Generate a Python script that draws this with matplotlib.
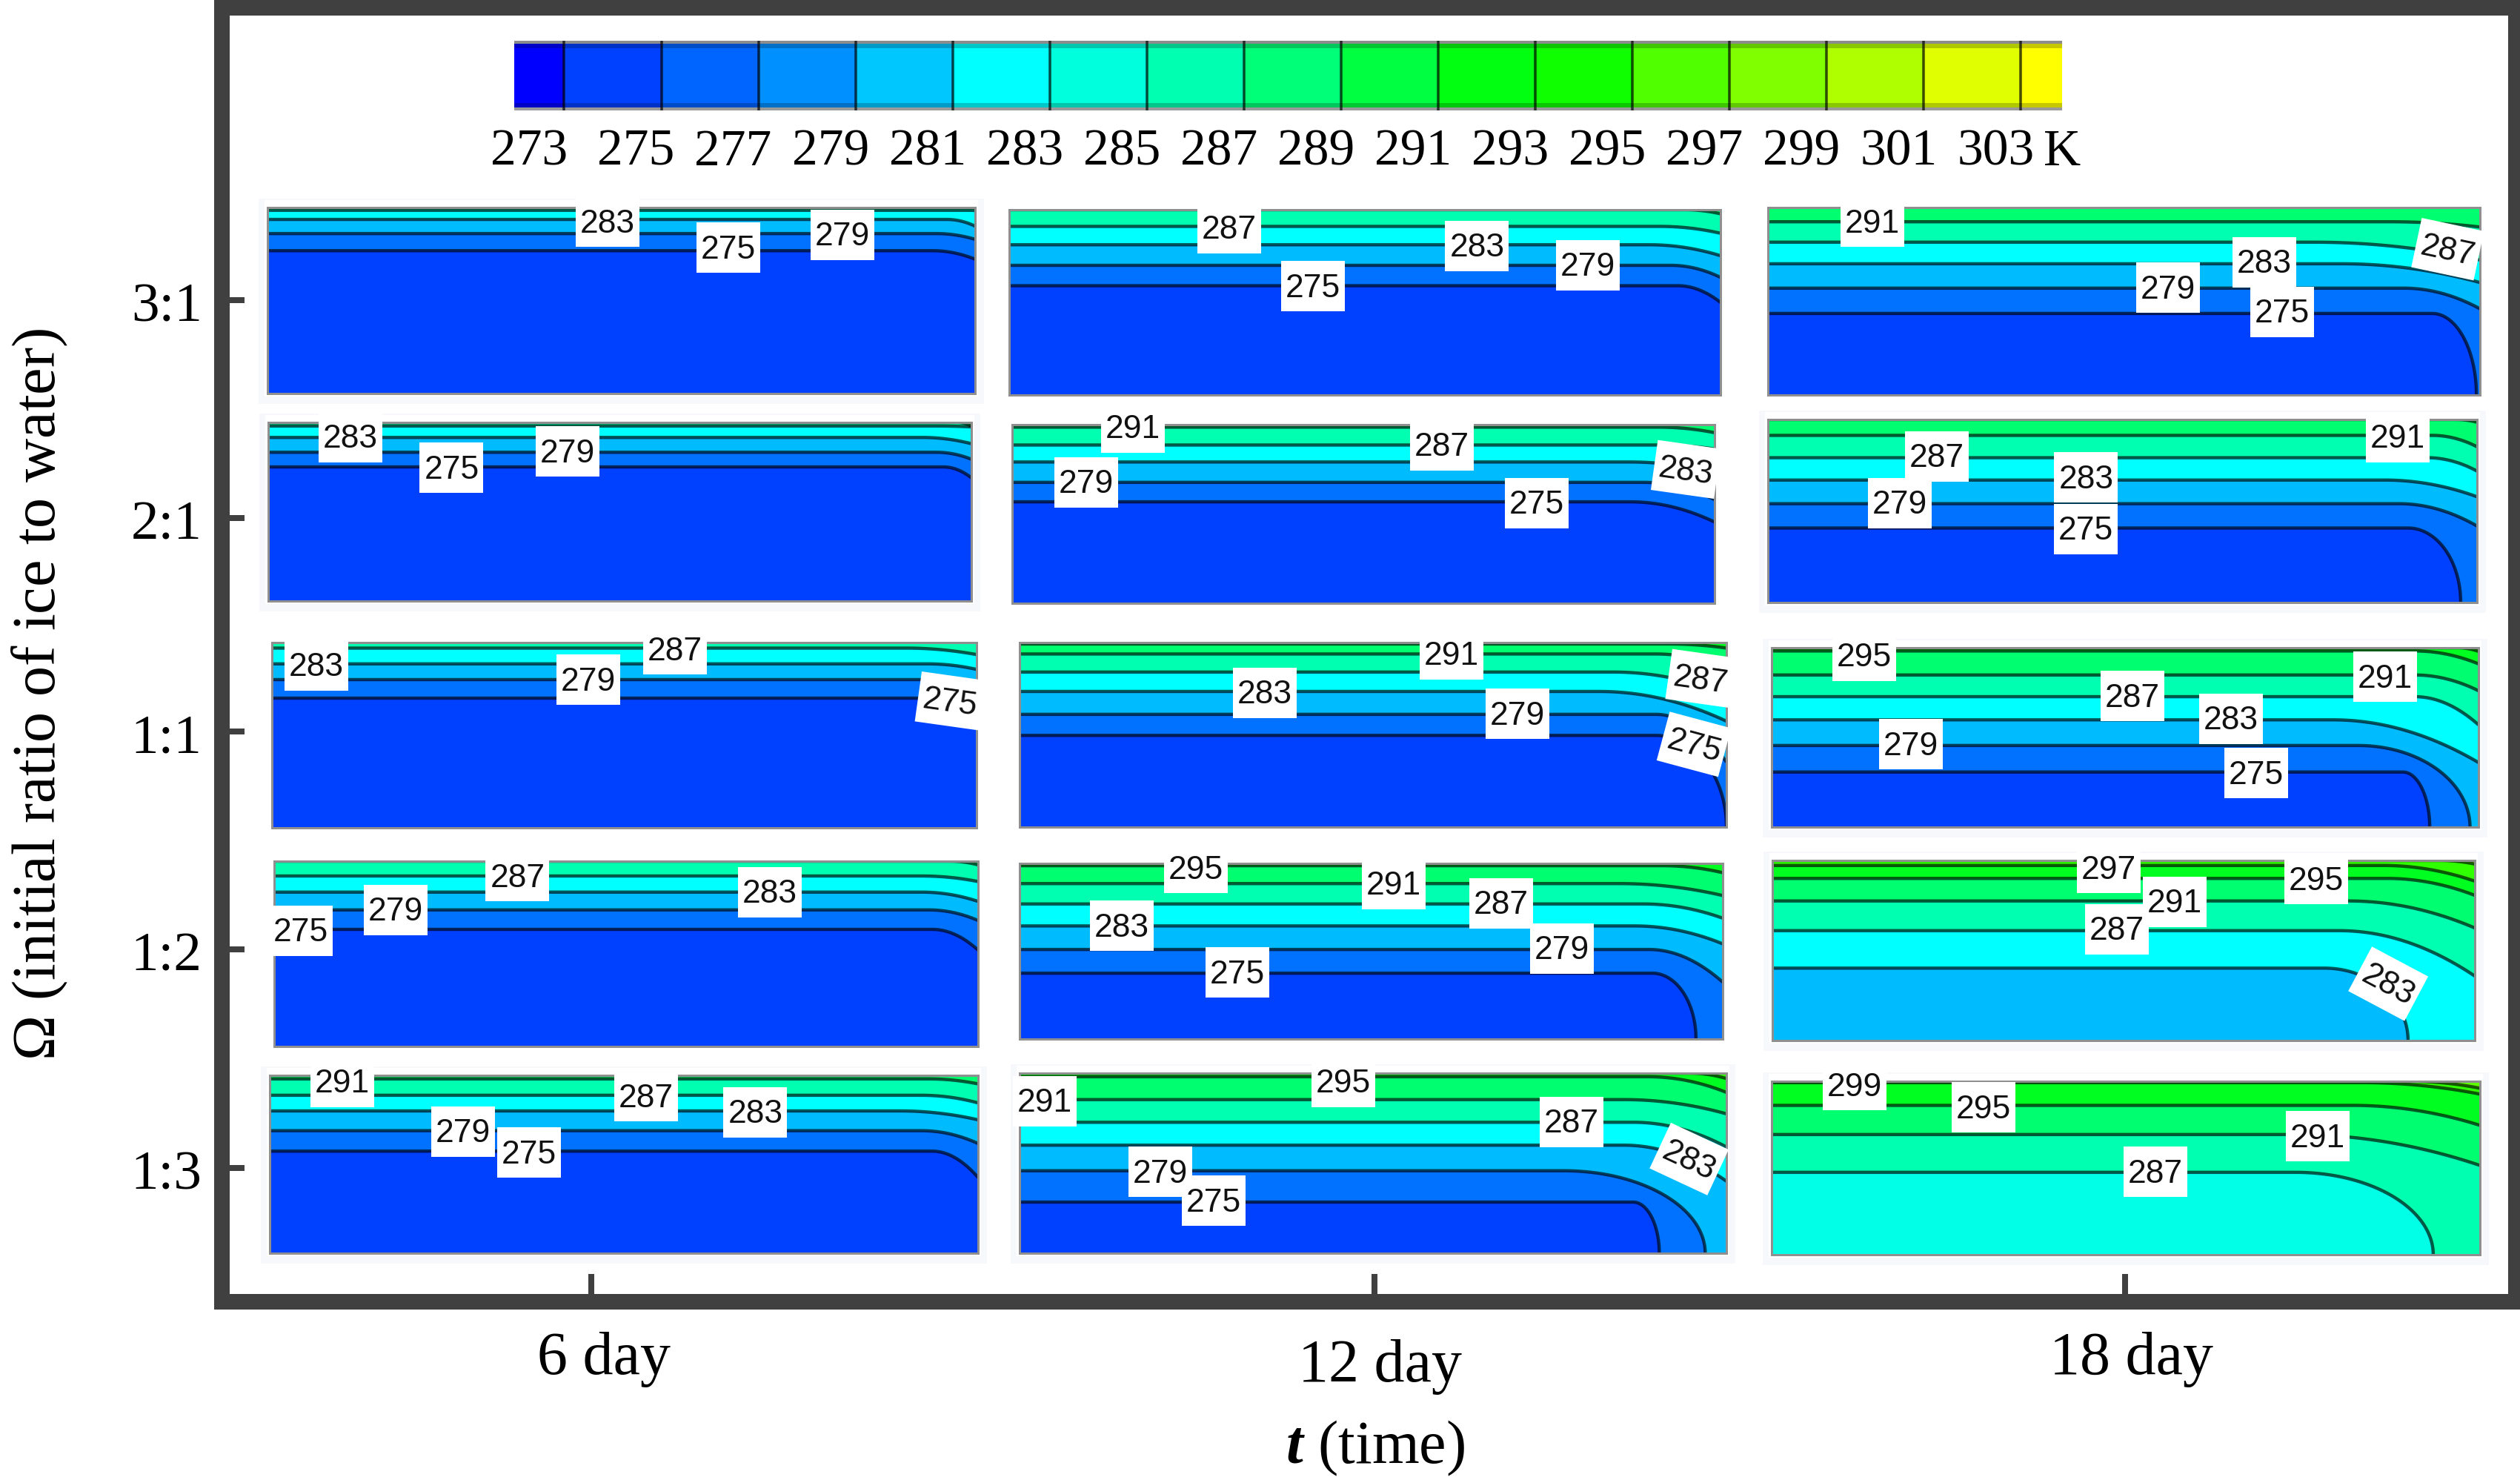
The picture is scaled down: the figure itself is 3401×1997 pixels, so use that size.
import numpy as np
import matplotlib
matplotlib.use("Agg")
import matplotlib.pyplot as plt
from matplotlib.patches import Polygon, Rectangle
from matplotlib.transforms import ScaledTranslation

plt.rcParams['font.family'] = ['Liberation Serif', 'DejaVu Serif']
plt.rcParams['mathtext.fontset'] = 'custom'
plt.rcParams['mathtext.rm'] = 'Liberation Serif'
plt.rcParams['mathtext.it'] = 'Liberation Serif:italic'
plt.rcParams['mathtext.bf'] = 'Liberation Serif:bold'
plt.rcParams['mathtext.bfit'] = 'Liberation Serif:italic:bold'

W, H = 3401, 1997
S = W / 1568.0

# ---- colour bar ----
BAR_TICKS = [273, 275, 277, 279, 281, 283, 285, 287, 289, 291, 293, 295, 297, 299, 301, 303]
BAR_COLORS = ['#0000ff', '#0040ff', '#0064ff', '#0090ff', '#00c8ff', '#00ffff', '#00ffdc', '#00ffb0',
              '#00ff78', '#00ff40', '#00ff10', '#10ff00', '#50ff00', '#80ff00', '#b0ff00', '#e0ff00', '#ffff00']
BAR_LIMITS = (271.97, 303.85)

# colour of the band lying above an isotherm
BAND = {271: '#0040ff', 275: '#0072ff', 279: '#00bcff', 283: '#00ffff', 287: '#00ffb0',
        291: '#00ff70', 295: '#00ff20', 299: '#30ff00', 303: '#60ff00'}

ROWS = ['3:1', '2:1', '1:1', '1:2', '1:3']
DAYS = ['6 day', '12 day', '18 day']

# isotherm: (level K, depth at left, x where it starts to bend, depth at right edge, x at floor or None)
R1C1 = [(275, .232, .94, .278, None), (279, .14, .945, .171, None), (283, .064, .96, .10, None), (287, .015, .99, .016, None)]
R2C1 = [(275, .249, .96, .31, None), (279, .167, .95, .206, None), (283, .084, .93, .119, None), (287, .02, .95, .025, None), (291, 0, .98, .02, None)]
R3C1 = [(275, .30, .91, .40, None), (279, .20, .92, .24, None), (283, .115, .93, .145, None), (287, .03, .90, .065, None)]
R4C1 = [(275, .368, .935, .48, None), (279, .263, .93, .32, None), (283, .167, .92, .217, None), (287, .08, .92, .11, None), (291, 0, .96, .02, None)]
R5C1 = [(275, .426, .935, .574, None), (279, .311, .92, .383, None), (283, .20, .89, .25, None), (287, .112, .92, .155, None), (291, .02, .93, .048, None)]

R1C2 = [(275, .41, .94, .50, None), (279, .30, .93, .365, None), (283, .189, .90, .248, None), (287, .09, .915, .127, None), (291, 0, .95, .022, None)]
R2C2 = [(275, .432, .88, .545, None), (279, .323, .90, .42, None), (283, .209, .88, .27, None), (287, .114, .92, .136, None), (291, .014, .92, .045, None)]
R3C2 = [(275, .503, .90, 1, 1.0), (279, .389, .90, .647, None), (283, .265, .82, .426, None), (287, .16, .84, .28, None), (291, .062, .90, .14, None), (295, .008, .92, .03, None)]
R4C2 = [(275, .625, .90, 1, .962), (279, .49, .895, .676, None), (283, .356, .875, .458, None), (287, .231, .887, .312, None), (291, .115, .853, .183, None), (295, .013, .914, .053, None)]
R5C2 = [(275, .716, .868, 1, .905), (279, .542, .77, 1, .97), (283, .40, .855, .60, None), (287, .273, .868, .41, None), (291, .147, .855, .226, None), (295, .02, .889, .107, None), (299, 0, .948, .03, None)]

R1C3 = [(275, .565, .933, 1, .995), (279, .43, .893, .54, None), (283, .30, .806, .40, None), (287, .185, .767, .28, None), (291, .076, .873, .104, None)]
R2C3 = [(275, .593, .903, 1, .977), (279, .46, .89, .582, None), (283, .331, .87, .422, None), (287, .209, .93, .282, None), (291, .087, .937, .149, None), (295, 0, .97, .015, None)]
R3C3 = [(275, .693, .893, 1, .931), (279, .545, .83, 1, .988), (283, .402, .794, .64, None), (287, .273, .91, .43, None), (291, .152, .91, .24, None), (295, .018, .91, .09, None), (299, 0, .97, .02, None)]
R4C3 = [(283, .598, .786, 1, .905), (287, .39, .807, .642, None), (291, .225, .82, .375, None), (295, .10, .875, .194, None), (299, .028, .87, .115, None), (303, 0, .95, .02, None)]
R5C3 = [(287, .525, .74, 1, .934), (291, .307, .74, .485, None), (295, .139, .82, .254, None), (299, .008, .835, .074, None), (303, 0, .90, .04, None)]

GRID = [[R1C1, R1C2, R1C3], [R2C1, R2C2, R2C3], [R3C1, R3C2, R3C3], [R4C1, R4C2, R4C3], [R5C1, R5C2, R5C3]]
BASE_OVERRIDE = {(4, 2): '#00ffe6'}

# panel rectangles in reference pixels: left, right, top, bottom
BOXES = [[(361, 1316, 280, 531), (1362, 2322, 283, 533), (2386, 3347, 280, 533)],
         [(362, 1311, 570, 811), (1366, 2314, 573, 814), (2386, 3343, 566, 813)],
         [(367, 1318, 867, 1117), (1376, 2330, 867, 1116), (2391, 3345, 874, 1116)],
         [(370, 1320, 1162, 1412), (1376, 2325, 1165, 1402), (2392, 3340, 1161, 1404)],
         [(364, 1320, 1451, 1691), (1376, 2330, 1448, 1691), (2391, 3347, 1459, 1693)]]
HALOS = [(0, 0), (1, 0), (4, 0), (1, 2), (3, 2), (4, 2), (4, 1), (2, 2)]

# contour labels: text, x, y (in the 1568 wide reference view), clockwise angle
LABELS = [('283', 378, 138, 0), ('275', 453, 154, 0), ('279', 524, 146, 0),
          ('287', 765, 142, 0), ('283', 919, 153, 0), ('279', 988, 165, 0), ('275', 817, 178, 0),
          ('291', 1165, 138, 0), ('279', 1349, 179, 0), ('283', 1409, 163, 0), ('275', 1420, 194, 0), ('287', 1523, 155, 12),
          ('283', 218, 272, 0), ('275', 281, 291, 0), ('279', 353, 281, 0),
          ('291', 705, 266, 0), ('287', 897, 277, 0), ('279', 676, 300, 0), ('275', 956, 313, 0), ('283', 1049, 292, 8),
          ('287', 1205, 284, 0), ('291', 1492, 272, 0), ('283', 1298, 297, 0), ('279', 1182, 313, 0), ('275', 1298, 329, 0),
          ('283', 197, 414, 0), ('279', 366, 423, 0), ('287', 420, 404, 0), ('275', 591, 436, 8),
          ('291', 903, 407, 0), ('283', 787, 431, 0), ('279', 944, 444, 0), ('287', 1058, 422, 8), ('275', 1054, 463, 15),
          ('295', 1160, 408, 0), ('287', 1327, 433, 0), ('291', 1484, 421, 0), ('283', 1388, 447, 0), ('279', 1189, 463, 0), ('275', 1404, 481, 0),
          ('287', 322, 545, 0), ('283', 479, 555, 0), ('279', 246, 566, 0), ('275', 187, 579, 0),
          ('295', 744, 540, 0), ('291', 867, 550, 0), ('287', 934, 562, 0), ('283', 698, 576, 0), ('279', 972, 590, 0), ('275', 770, 605, 0),
          ('297', 1312, 540, 0), ('291', 1353, 561, 0), ('295', 1441, 547, 0), ('287', 1317, 578, 0), ('283', 1486, 612, 28),
          ('291', 213, 673, 0), ('287', 402, 682, 0), ('283', 470, 692, 0), ('279', 288, 704, 0), ('275', 329, 717, 0),
          ('295', 836, 673, 0), ('291', 650, 685, 0), ('287', 978, 698, 0), ('283', 1051, 721, 25), ('279', 722, 729, 0), ('275', 755, 747, 0),
          ('299', 1154, 675, 0), ('295', 1234, 689, 0), ('291', 1442, 707, 0), ('287', 1341, 729, 0)]

DARK = '#404040'
px = 72.0 / 100.0  # one pixel in points at dpi 100

fig = plt.figure(figsize=(W / 100, H / 100), dpi=100, facecolor='white')


def place(l, r, t, b, **kw):
    return fig.add_axes([l / W, 1 - b / H, (r - l) / W, (b - t) / H], **kw)


# ---- outer frame, ticks, axis labels ----
ax = place(299, 3393, 10, 1756)
ax.set_xlim(299, 3393)
ax.set_ylim(1756, 10)
for s in ax.spines.values():
    s.set_linewidth(21 * px)
    s.set_color(DARK)
ax.spines['right'].set_linewidth(16 * px)
ax.set_xticks([798, 1855, 2868])
ax.set_xticklabels(DAYS, fontsize=59)
ax.set_yticks([405, 699, 987, 1281, 1576])
ax.set_yticklabels(ROWS, fontsize=54)
ax.tick_params(axis='x', direction='in', length=37 * px, width=8 * px, color=DARK, pad=29)
ax.tick_params(axis='y', direction='in', length=31 * px, width=8 * px, color=DARK, pad=19)
ax.xaxis.get_major_ticks()[1].set_pad(36)
for lab, shift in zip(ax.get_xticklabels(), [17, 7, 9]):
    lab.set_transform(lab.get_transform() + ScaledTranslation(shift / 100, 0, fig.dpi_scale_trans))
for lab in ax.get_yticklabels():
    lab.set_transform(lab.get_transform() + ScaledTranslation(0, -3 / 100, fig.dpi_scale_trans))
ax.set_xlabel(r'$\mathbfit{t}$ (time)', fontsize=59)
ax.xaxis.set_label_coords(1856 / W, 1 - 1954 / H, transform=fig.transFigure)
ax.xaxis.label.set_va('center')
ax.set_ylabel('$\\mathit{\u03a9}$ (initial ratio of ice to water)', fontsize=59)
ax.yaxis.set_label_coords(54 / W, 1 - 937 / H, transform=fig.transFigure)
ax.yaxis.label.set_va('center')

for (i, j) in HALOS:
    l, r, t, b = BOXES[i][j]
    ax.add_patch(Rectangle((l - 12, t - 12), r - l + 24, b - t + 26, fc='#f6f8fc', ec='none', zorder=0.5))
    ax.add_patch(Rectangle((l - 4, t - 10), r - l + 8, b - t + 14, fc='white', ec='none', zorder=0.6))

# ---- colour bar ----
cb = place(694, 2783, 55, 149)
edges = np.array([BAR_LIMITS[0]] + BAR_TICKS + [BAR_LIMITS[1]])
for k, c in enumerate(BAR_COLORS):
    cb.axvspan(edges[k], edges[k + 1], color=c, lw=0)
cb.vlines(BAR_TICKS, 0, 1, color='black', alpha=0.7, lw=3.5 * px)
cb.axhspan(0, 0.11, color='black', alpha=0.22, lw=0)
cb.axhspan(0.89, 1, color='black', alpha=0.22, lw=0)
cb.axhspan(0, 0.04, color='#9a9a9a', lw=0)
cb.axhspan(0.96, 1, color='#8c8c8c', lw=0)
cb.set_xlim(*BAR_LIMITS)
cb.set_ylim(0, 1)
cb.set_xticks([])
cb.set_yticks([])
for s in cb.spines.values():
    s.set_visible(False)

# ---- contour panels ----
t_arc = np.linspace(0, np.pi / 2, 60)
s_par = np.linspace(0, 1, 40)


def isotherm(depth, bend, right, floor):
    if floor is None:
        x = bend + (1 - bend) * s_par
        y = depth + (right - depth) * s_par ** 2
    else:
        x = bend + (floor - bend) * np.sin(t_arc)
        y = depth + (1 - depth) * (1 - np.cos(t_arc))
    return np.r_[0, x], np.r_[depth, y]


for i, row in enumerate(GRID):
    for j, lines in enumerate(row):
        l, r, t, b = BOXES[i][j]
        pa = place(l, r, t, b, zorder=2)
        base = BASE_OVERRIDE.get((i, j), BAND[lines[0][0] - 4])
        pa.set_facecolor(base)
        curves = []
        for level, depth, bend, right, floor in lines:
            x, y = isotherm(depth, bend, right, floor)
            tail_x = [1, 1, 0] if floor is not None else [1, 0]
            tail_y = [1, 0, 0] if floor is not None else [0, 0]
            pa.fill(np.r_[x, tail_x], np.r_[y, tail_y], color=BAND[level], lw=0)
            curves.append((x, y))
        for x, y in curves:
            pa.plot(x, y, color='black', alpha=0.65, lw=4.4 * px, solid_capstyle='butt')
        pa.set_xlim(0, 1)
        pa.set_ylim(1, 0)
        pa.set_xticks([])
        pa.set_yticks([])
        for s in pa.spines.values():
            s.set_color('#8f8f8f')
            s.set_linewidth(3 * px)

# ---- overlay for bar labels and contour labels ----
ov = fig.add_axes([0, 0, 1, 1], zorder=5)
ov.set_xlim(0, W)
ov.set_ylim(H, 0)
ov.axis('off')
ov.patch.set_alpha(0)

for v in BAR_TICKS:
    off = -47 if v == 273 else -34
    xp = cb.transData.transform((v, 0))[0] + off
    ov.text(xp, 206, str(v), fontsize=50, ha='center', va='center')
ov.text(2783, 206, 'K', fontsize=50, ha='center', va='center')

BW, BH = 86, 68
for txt, dx, dy, ang in LABELS:
    cx, cy = dx * S, dy * S
    a = np.deg2rad(ang)
    corners = [(-BW / 2, -BH / 2), (BW / 2, -BH / 2), (BW / 2, BH / 2), (-BW / 2, BH / 2)]
    pts = [(cx + u * np.cos(a) - w * np.sin(a), cy + u * np.sin(a) + w * np.cos(a)) for u, w in corners]
    ov.add_patch(Polygon(pts, closed=True, fc='white', ec='none'))
    ov.text(cx, cy + 3, txt, fontsize=32, family=['Liberation Sans', 'DejaVu Sans'], ha='center', va='center',
            rotation=-ang, rotation_mode='anchor', color='#111111')

fig.savefig('out.png', dpi=100, facecolor='white')
